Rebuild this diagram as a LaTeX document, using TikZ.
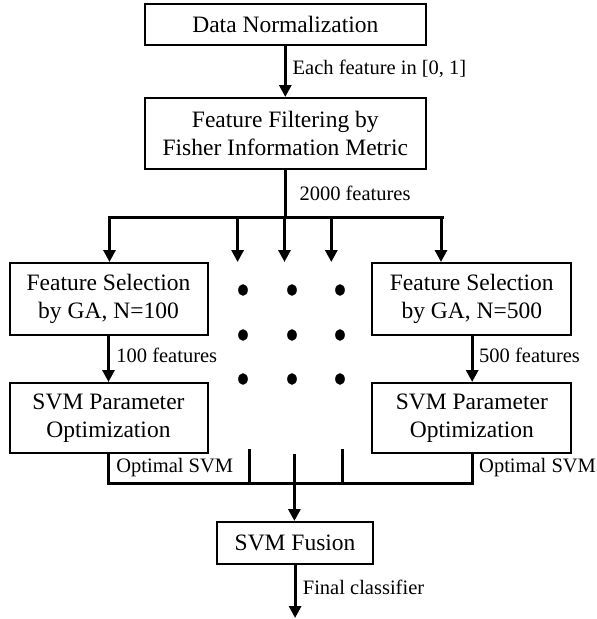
\documentclass[tikz,border=0pt]{standalone}
\usepackage{fontspec}
\setmainfont{Liberation Serif}
\usetikzlibrary{arrows.meta}
\begin{document}
\begin{tikzpicture}[x=1pt,y=-1pt,
  box/.style={draw,line width=2pt,rectangle,align=center,inner sep=0pt,
    font=\fontsize{23.5}{28.3}\selectfont},
  lbl/.style={anchor=west,inner sep=0pt,font=\fontsize{20.5}{22}\selectfont},
  arr/.style={line width=3pt,-{Triangle[width=12pt,length=12pt]}},
  ln/.style={line width=3pt}]
\useasboundingbox (0,0) rectangle (597,619);
% boxes
\node[box,minimum width=281pt,minimum height=41.5pt] (dn) at (285.3,24.3) {Data Normalization};
\node[box,minimum width=281pt,minimum height=71pt] (ff) at (285.3,133.5) {Feature Filtering by\\Fisher Information Metric};
\node[box,minimum width=198pt,minimum height=72pt] (fsl) at (108.5,299) {Feature Selection\\by GA, N=100};
\node[box,minimum width=199pt,minimum height=72pt] (fsr) at (471.8,299) {Feature Selection\\by GA, N=500};
\node[box,minimum width=198pt,minimum height=70pt] (sol) at (108.5,418) {SVM Parameter\\Optimization};
\node[box,minimum width=199pt,minimum height=70pt] (sor) at (471.8,418) {SVM Parameter\\Optimization};
\node[box,minimum width=156pt,minimum height=42pt] (fu) at (295.1,543) {SVM Fusion};
% labels
\node[lbl] (l1) at (292.5,69) {Each feature in [0, 1]};
\node[lbl] (l2) at (299.3,193) {2000 features};
\node[lbl] (l3) at (116.2,355) {100 features};
\node[lbl] (l4) at (479,355) {500 features};
\node[lbl] (l5) at (116.2,468) {Optimal SVM};
\node[lbl] (l6) at (479,468) {Optimal SVM};
\node[lbl] (l7) at (302.7,587) {Final classifier};
% coordinates
\coordinate (bl) at (109.5,217);
\coordinate (br) at (442,217);
\coordinate (bc) at (285.3,217);
\coordinate (t1) at (237.6,217); \coordinate (e1) at (237.6,262);
\coordinate (t2) at (284.5,217); \coordinate (e2) at (284.5,262);
\coordinate (t3) at (331.3,217); \coordinate (e3) at (331.3,262);
\coordinate (tr) at (441,217);
\coordinate (cl) at (108.5,483);
\coordinate (cr) at (472.2,483);
\coordinate (m1) at (249.4,449); \coordinate (n1) at (249.4,483);
\coordinate (m2) at (342,449); \coordinate (n2) at (342,483);
\coordinate (mc) at (294.4,454);
\coordinate (fe) at (295.1,618);
% connectors
\draw[arr] (dn) -- (ff);
\draw[ln] (ff.south) -- (bc);
\draw[ln,line cap=rect] (bl) -- (br);
\draw[arr] (bl) -- (fsl.north -| bl);
\draw[arr] (tr) -- (fsr.north -| tr);
\draw[arr] (t1) -- (e1);
\draw[arr] (t2) -- (e2);
\draw[arr] (t3) -- (e3);
\draw[arr] (fsl) -- (sol);
\draw[arr] (fsr.south -| cr) -- (sor.north -| cr);
\draw[ln] (sol.south) -- (cl) -- (cr) -- (sor.south -| cr);
\draw[ln] (m1) -- (n1);
\draw[ln] (m2) -- (n2);
\draw[arr] (mc) -- (fu.north -| mc);
\draw[arr] (fu) -- (fe);
% dots
\foreach \x in {243,292,340}{
  \foreach \y in {290,335,379}{
    \fill (\x,\y) ellipse (4.8pt and 5.8pt);
  }
}
\end{tikzpicture}
\end{document}
